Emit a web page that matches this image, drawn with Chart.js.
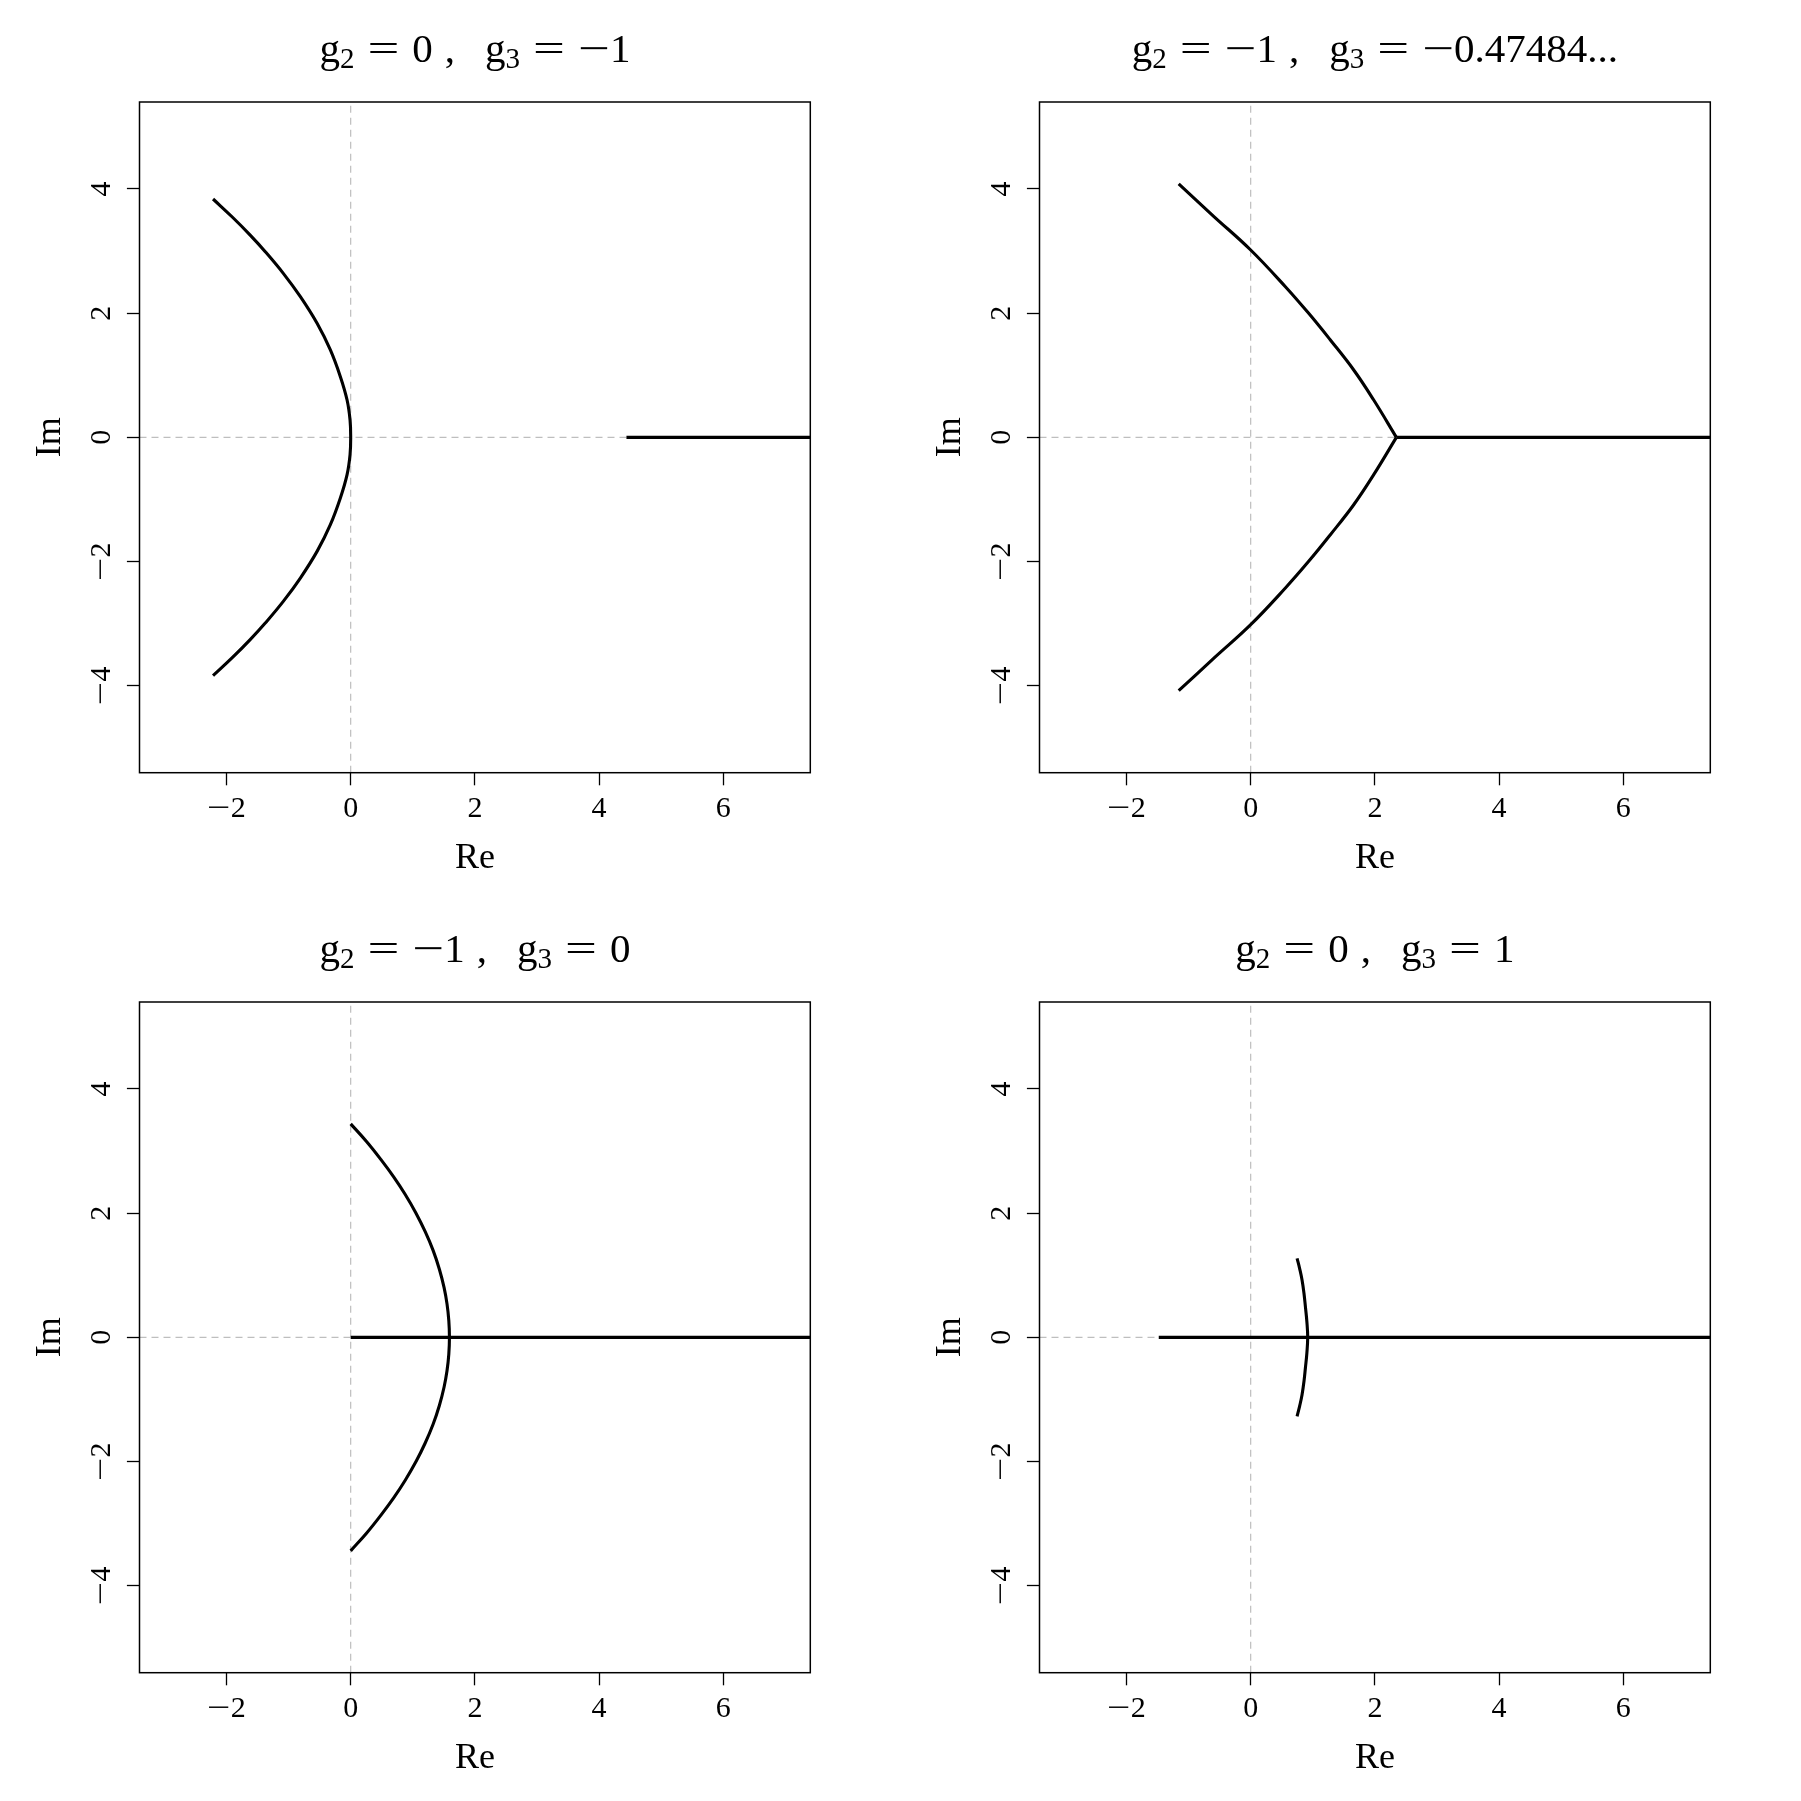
<!DOCTYPE html>
<html>
<head>
<meta charset="utf-8">
<script src="https://cdn.jsdelivr.net/npm/chart.js@4.4.1/dist/chart.umd.min.js"></script>
<style>
html,body{margin:0;padding:0;background:#fff;}
#wrap{position:relative;width:1801px;height:1801px;background:#fff;overflow:hidden;}
#wrap canvas{position:absolute;}
</style>
</head>
<body>
<div id="wrap"></div>
<script>
// ---------- data ----------
const g2Labels = ['0', '\u22121', '\u22121', '0'];
const g3Labels = ['\u22121', '\u22120.47484...', '0', '1'];
const xTicks = [-2, 0, 2, 4, 6];
const yTicks = [-4, -2, 0, 2, 4];
const xRange = [-3.4, 7.4];
const yRange = [-5.4, 5.4];
const xTitle = 'Re';
const yTitle = 'Im';

// panel 1 : g2 = 0, g3 = -1
const p1ArcRe = [-2.216, -1.898, -1.618, -1.375, -1.085, -0.810, -0.541, -0.327, -0.166, -0.058, -0.010, 0, -0.010, -0.058, -0.166, -0.327, -0.541, -0.810, -1.085, -1.375, -1.618, -1.898, -2.216];
const p1ArcIm = [3.838, 3.540, 3.257, 2.990, 2.641, 2.265, 1.836, 1.407, 0.977, 0.601, 0.279, 0, -0.279, -0.601, -0.977, -1.407, -1.836, -2.265, -2.641, -2.990, -3.257, -3.540, -3.838];
const p1RayRe = [4.44, 7.4];
const p1RayIm = [0, 0];

// panel 2 : g2 = -1, g3 = -0.47484...
const p2UpperRe = [-1.159, -0.596, 0.0, 0.559, 0.934, 1.283, 1.659, 1.981, 2.346];
const p2UpperIm = [4.080, 3.560, 3.017, 2.426, 1.997, 1.568, 1.085, 0.601, 0];
const p2LowerRe = [-1.159, -0.596, 0.0, 0.559, 0.934, 1.283, 1.659, 1.981, 2.346];
const p2LowerIm = [-4.080, -3.560, -3.017, -2.426, -1.997, -1.568, -1.085, -0.601, 0];
const p2RayRe = [2.346, 7.4];
const p2RayIm = [0, 0];

// panel 3 : g2 = -1, g3 = 0
const p3ArcRe = [0.0, 0.258, 0.488, 0.692, 0.876, 1.052, 1.200, 1.327, 1.428, 1.504, 1.551, 1.580, 1.590, 1.580, 1.551, 1.504, 1.428, 1.327, 1.200, 1.052, 0.876, 0.692, 0.488, 0.258, 0.0];
const p3ArcIm = [3.438, 3.150, 2.862, 2.585, 2.305, 2.000, 1.701, 1.400, 1.097, 0.800, 0.539, 0.270, 0, -0.270, -0.539, -0.800, -1.097, -1.400, -1.701, -2.000, -2.305, -2.585, -2.862, -3.150, -3.438];
const p3RayRe = [0, 7.4];
const p3RayIm = [0, 0];

// panel 4 : g2 = 0, g3 = 1
const p4ArcRe = [0.747, 0.790, 0.827, 0.858, 0.881, 0.905, 0.918, 0.905, 0.881, 0.858, 0.827, 0.790, 0.747];
const p4ArcIm = [1.273, 1.100, 0.924, 0.710, 0.494, 0.250, 0, -0.250, -0.494, -0.710, -0.924, -1.100, -1.273];
const p4RayRe = [-1.48, 7.4];
const p4RayIm = [0, 0];

// ---------- helpers ----------
const zip = (re, im) => re.map((v, i) => ({x: v, y: im[i]}));
const fmt = v => (v < 0 ? '\u2212' + Math.abs(v) : String(v));
const FONT = '"Liberation Serif", "DejaVu Serif", serif';
const SYMW = 1.38; // math operators (=, minus) are wider in the original typeface

function runs(s) {
  const out = [];
  for (const ch of s) {
    const sym = ch === '=' || ch === '\u2212';
    if (out.length && out[out.length - 1].sym === sym) out[out.length - 1].t += ch;
    else out.push({t: ch, sym});
  }
  return out;
}
function mixedWidth(ctx, s) {
  return runs(s).reduce((w, r) => w + ctx.measureText(r.t).width * (r.sym ? SYMW : 1), 0);
}
function drawMixed(ctx, s, x, y) {
  runs(s).forEach(r => {
    const w = ctx.measureText(r.t).width;
    if (r.sym) {
      ctx.save(); ctx.translate(x, y); ctx.scale(SYMW, 1); ctx.fillText(r.t, 0, 0); ctx.restore();
      x += w * SYMW;
    } else { ctx.fillText(r.t, x, y); x += w; }
  });
  return x;
}
function drawCentered(ctx, s, cx, y) {
  const w = mixedWidth(ctx, s);
  drawMixed(ctx, s, cx - w / 2, y);
}

const panels = [
  {g2: g2Labels[0], g3: g3Labels[0], curves: [[p1ArcRe, p1ArcIm]], rays: [[p1RayRe, p1RayIm]]},
  {g2: g2Labels[1], g3: g3Labels[1], curves: [[p2UpperRe, p2UpperIm], [p2LowerRe, p2LowerIm]], rays: [[p2RayRe, p2RayIm]]},
  {g2: g2Labels[2], g3: g3Labels[2], curves: [[p3ArcRe, p3ArcIm]], rays: [[p3RayRe, p3RayIm]]},
  {g2: g2Labels[3], g3: g3Labels[3], curves: [[p4ArcRe, p4ArcIm]], rays: [[p4RayRe, p4RayIm]]}
];

const PANEL = 900;
const PLOT = {left: 139.5, top: 102, right: 810.3, bottom: 772.7};

const decor = {
  id: 'rdecor',
  afterDraw(chart) {
    const ctx = chart.ctx, ca = chart.chartArea;
    const xs = chart.scales.x, ys = chart.scales.y;
    const p = chart.options.plugins.rdecor;
    ctx.save();
    // box
    ctx.strokeStyle = '#000';
    ctx.lineWidth = 1.5;
    ctx.strokeRect(ca.left, ca.top, ca.right - ca.left, ca.bottom - ca.top);
    ctx.fillStyle = '#000';
    ctx.textAlign = 'left';
    ctx.textBaseline = 'alphabetic';
    // x tick labels
    ctx.font = '30px ' + FONT;
    xTicks.forEach(v => drawCentered(ctx, fmt(v), xs.getPixelForValue(v), ca.bottom + 44.5));
    // y tick labels (rotated)
    yTicks.forEach(v => {
      ctx.save();
      ctx.translate(ca.left - 29.5, ys.getPixelForValue(v));
      ctx.rotate(-Math.PI / 2);
      drawCentered(ctx, fmt(v), 0, 0);
      ctx.restore();
    });
    // axis titles
    ctx.font = '36px ' + FONT;
    drawCentered(ctx, xTitle, (ca.left + ca.right) / 2, ca.bottom + 95);
    ctx.save();
    ctx.translate(ca.left - 79.5, (ca.top + ca.bottom) / 2);
    ctx.rotate(-Math.PI / 2);
    drawCentered(ctx, yTitle, 0, 0);
    ctx.restore();
    // main title with subscripts
    const big = '41px ' + FONT, small = '29px ' + FONT;
    const tokens = [
      {t: 'g', f: big}, {t: '2', f: small, dy: 6}, {gap: 13},
      {t: '=', f: big}, {gap: 13},
      {t: p.g2, f: big}, {gap: 12},
      {t: ',', f: big}, {gap: 30},
      {t: 'g', f: big}, {t: '3', f: small, dy: 6}, {gap: 13},
      {t: '=', f: big}, {gap: 13},
      {t: p.g3, f: big}
    ];
    let w = 0;
    tokens.forEach(tk => {
      if (tk.gap) { tk.w = tk.gap; } else { ctx.font = tk.f; tk.w = mixedWidth(ctx, tk.t); }
      w += tk.w;
    });
    let x = (ca.left + ca.right) / 2 - w / 2;
    const base = ca.top - 40.5;
    tokens.forEach(tk => {
      if (!tk.gap) { ctx.font = tk.f; drawMixed(ctx, tk.t, x, base + (tk.dy || 0)); }
      x += tk.w;
    });
    ctx.restore();
  }
};

const wrap = document.getElementById('wrap');
panels.forEach((pn, i) => {
  const col = i % 2, row = Math.floor(i / 2);
  const cv = document.createElement('canvas');
  cv.width = PANEL; cv.height = PANEL;
  cv.style.left = (col * PANEL) + 'px';
  cv.style.top = (row * PANEL) + 'px';
  cv.style.width = PANEL + 'px';
  cv.style.height = PANEL + 'px';
  wrap.appendChild(cv);

  const datasets = [];
  pn.curves.forEach(c => datasets.push({
    data: zip(c[0], c[1]), showLine: true, borderColor: '#000', borderWidth: 3.1,
    pointRadius: 0, tension: 0.4, fill: false, order: 1, borderCapStyle: 'butt', borderJoinStyle: 'round'
  }));
  pn.rays.forEach(r => datasets.push({
    data: zip(r[0], r[1]), showLine: true, borderColor: '#000', borderWidth: 3.1,
    pointRadius: 0, tension: 0, fill: false, order: 1, borderCapStyle: 'butt'
  }));
  // dashed reference lines (abline)
  datasets.push({data: zip(xRange, [0, 0]), showLine: true, borderColor: '#BEBEBE', borderWidth: 1.2,
    borderDash: [7, 5], pointRadius: 0, order: 10});
  datasets.push({data: zip([0, 0], yRange), showLine: true, borderColor: '#BEBEBE', borderWidth: 1.2,
    borderDash: [7, 5], pointRadius: 0, order: 10});

  new Chart(cv, {
    type: 'scatter',
    data: {datasets},
    options: {
      responsive: false,
      animation: false,
      devicePixelRatio: 1,
      layout: {padding: {left: 0, top: PLOT.top, right: PANEL - PLOT.right, bottom: 0}},
      plugins: {legend: {display: false}, tooltip: {enabled: false}, title: {display: false},
        rdecor: {g2: pn.g2, g3: pn.g3}},
      scales: {
        x: {
          type: 'linear', position: 'bottom', min: xRange[0], max: xRange[1],
          afterBuildTicks: s => { s.ticks = xTicks.map(v => ({value: v})); },
          afterFit: s => { s.height = PANEL - PLOT.bottom; },
          ticks: {display: false},
          grid: {drawOnChartArea: false, drawTicks: true, tickLength: 12.6, tickWidth: 1.3, tickColor: '#000'},
          border: {display: false}
        },
        y: {
          type: 'linear', position: 'left', min: yRange[0], max: yRange[1],
          afterBuildTicks: s => { s.ticks = yTicks.map(v => ({value: v})); },
          afterFit: s => { s.width = PLOT.left; },
          ticks: {display: false},
          grid: {drawOnChartArea: false, drawTicks: true, tickLength: 12.6, tickWidth: 1.3, tickColor: '#000'},
          border: {display: false}
        }
      }
    },
    plugins: [decor]
  });
});
</script>
</body>
</html>
